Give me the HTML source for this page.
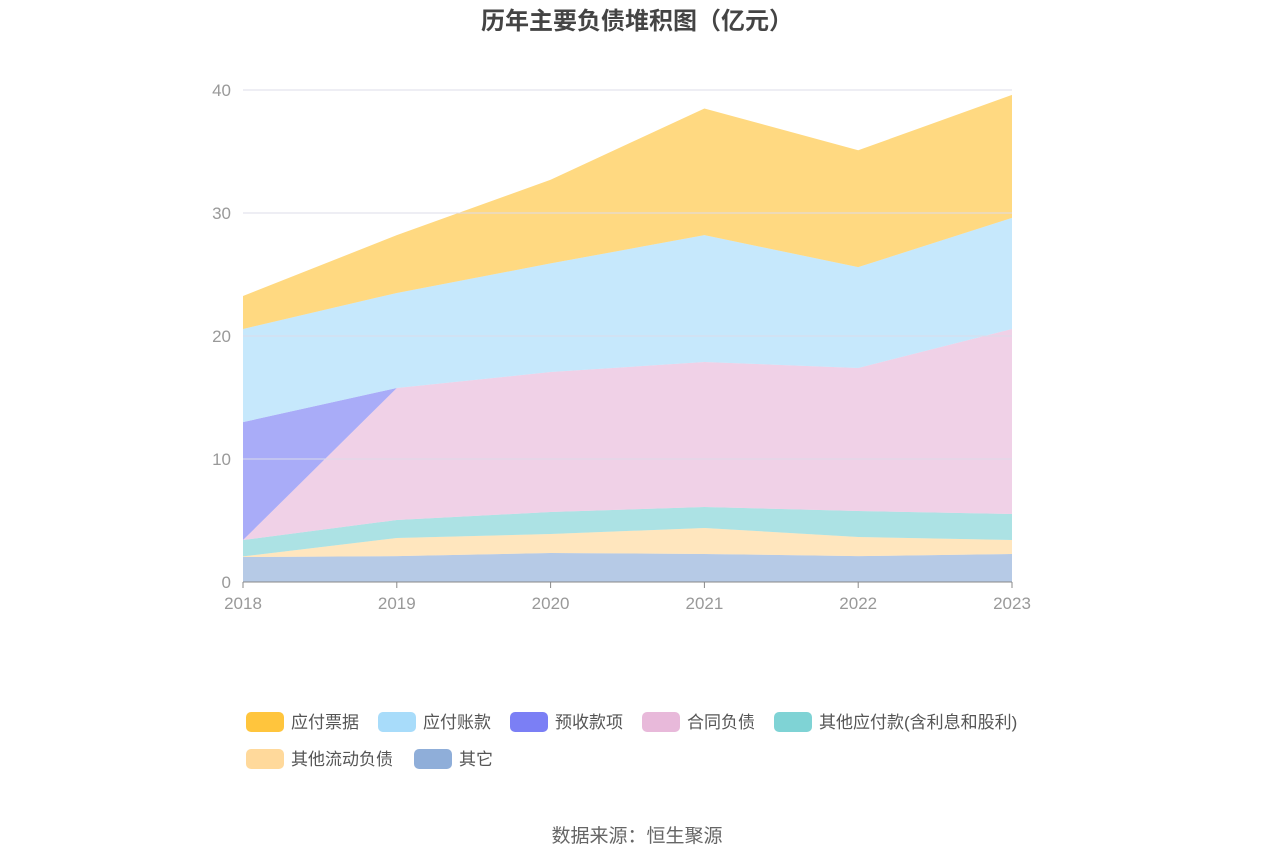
<!DOCTYPE html>
<html><head><meta charset="utf-8"><style>
body{margin:0;background:#fff;width:1275px;height:862px;overflow:hidden;font-family:"Liberation Sans","Noto Sans CJK SC",sans-serif}
</style></head><body>
<svg id="c" width="1275" height="862" style="font-family:'Liberation Sans','Noto Sans CJK SC',sans-serif">
<text x="637" y="29" text-anchor="middle" font-size="24" font-weight="bold" fill="#444">历年主要负债堆积图（亿元）</text>
<text x="637" y="842" text-anchor="middle" font-size="19" fill="#666">数据来源：恒生聚源</text>
<g id="areas"></g><g id="grid"></g><g id="axis"></g><g id="legend"></g>
</svg>
<script>
const years=['2018','2019','2020','2021','2022','2023'];
const yTicks=[0,10,20,30,40];
const seriesNames=['其它','其他流动负债','其他应付款(含利息和股利)','合同负债','预收款项','应付账款','应付票据'];
const qita=[2.03,2.1,2.36,2.28,2.1,2.28];
const qitaLiudong=[0.05,1.48,1.54,2.11,1.56,1.13];
const qitaYingfu=[1.33,1.46,1.79,1.71,2.11,2.12];
const hetong=[0,10.73,11.38,11.79,11.63,15.04];
const yushou=[9.59,0,0,0,0,0];
const yingfuZhangkuan=[7.57,7.73,8.83,10.31,8.2,9.03];
const yingfuPiaoju=[2.68,4.7,6.8,10.3,9.5,10.0];
const seriesData=[qita,qitaLiudong,qitaYingfu,hetong,yushou,yingfuZhangkuan,yingfuPiaoju];
const colors=['#8faed9','#ffd99b','#7fd3d5','#e8b9da','#7b7ff5','#a8dcfa','#ffc53d'];
const NS='http://www.w3.org/2000/svg';
const X=i=>243+i*(1012-243)/(years.length-1);
const Y=v=>582-v*(582-90)/40;
function mk(t,a,p){const e=document.createElementNS(NS,t);for(const k in a)e.setAttribute(k,a[k]);p.appendChild(e);return e;}
const areas=document.getElementById('areas');
let base=years.map(()=>0);
seriesData.forEach((s,k)=>{
  const top=base.map((b,i)=>b+s[i]);
  let d='M'+years.map((_,i)=>X(i)+','+Y(top[i])).join('L');
  for(let i=years.length-1;i>=0;i--)d+='L'+X(i)+','+Y(base[i]);
  const p=mk('path',{d:d+'Z',fill:colors[k],'fill-opacity':0.65},areas);
  
  
  base=top;
});
const grid=document.getElementById('grid'),axis=document.getElementById('axis');
yTicks.forEach(t=>{
  if(t>0){const l=mk('line',{x1:243,x2:1012,y1:Y(t),y2:Y(t),stroke:'#dcdcea','stroke-width':1},grid);
  
  }
  const tx=mk('text',{x:231,y:Y(t)+6,'text-anchor':'end','font-size':17,fill:'#999'},axis);tx.textContent=t;
  
  
});
const ax=mk('line',{x1:243,x2:1012,y1:582,y2:582,stroke:'#888'},axis);


years.forEach((y,i)=>{
  mk('line',{x1:X(i),x2:X(i),y1:582,y2:588,stroke:'#888'},axis);
  const tx=mk('text',{x:X(i),y:609,'text-anchor':'middle','font-size':17,fill:'#999'},axis);tx.textContent=y;
  
  
});
const lg=document.getElementById('legend');
const order=[6,5,4,3,2,1,0];
const pos=[[246,722],[378,722],[510,722],[642,722],[774,722],[246,759],[414,759]];
order.forEach((k,j)=>{
  const g=mk('g',{},lg);
  
  
  const [x,y]=pos[j];
  mk('rect',{x:x,y:y-10,width:38,height:20,rx:5,fill:colors[k]},g);
  const t=mk('text',{x:x+45,y:y+6,'font-size':17,fill:'#555'},g);t.textContent=seriesNames[k];
});
</script>
</body></html>
